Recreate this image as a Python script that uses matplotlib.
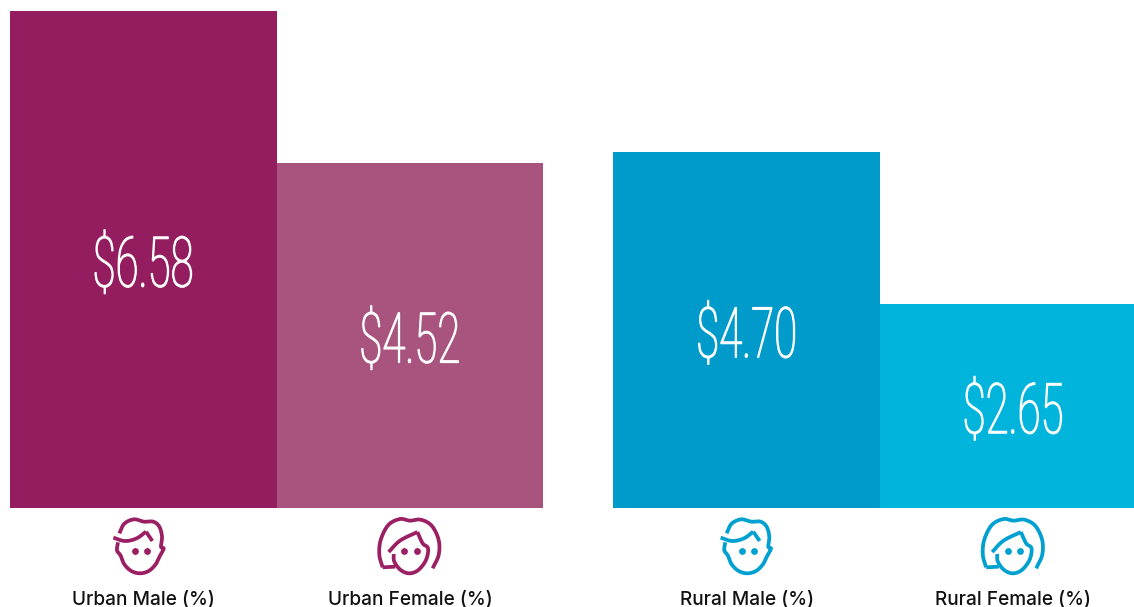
import numpy as np
import matplotlib
matplotlib.use("Agg")
import matplotlib.pyplot as plt
from matplotlib.text import Text
from matplotlib.textpath import TextPath
from matplotlib.transforms import Affine2D, Bbox
from matplotlib.font_manager import FontProperties

categories = ["Urban Male (%)", "Urban Female (%)", "Rural Male (%)", "Rural Female (%)"]
value_labels = ["$6.58", "$4.52", "$4.70", "$2.65"]
bar_heights = [6.58, 4.57, 4.71, 2.70]
positions = [0.0, 1.0, 2.262, 3.262]
bar_colors = ["#931D5E", "#A8547E", "#009BCB", "#00B4DC"]
icon_colors = ["#9B1F63", "#9B1F63", "#00A0D0", "#00A0D0"]

W, H = 1134, 607
fig = plt.figure(figsize=(W / 100, H / 100), dpi=100)
fig.patch.set_facecolor("white")
PX_PER_CAT = 266.7
ax = fig.add_axes([10 / W, (H - 508) / H, (W - 10) / W, 497 / H])
ax.set_xlim(-0.5, -0.5 + (W - 10) / PX_PER_CAT)
ax.set_ylim(0, 6.58)
ax.bar(positions, bar_heights, width=1.0, color=bar_colors, linewidth=0)
ax.set_xticks(positions, categories, fontfamily="Inter", fontweight="medium", fontsize=13.7, color="#111111")
ax.tick_params(axis="x", length=0, pad=59.5)
ax.set_yticks([])
for s in ax.spines.values():
    s.set_visible(False)


class CondensedText(Text):
    """Text whose glyphs are squeezed horizontally, as in the condensed display face."""
    stretch = 0.6
    em_px = 70.0
    stroke_pt = 0.85

    def _path_and_affine(self):
        tp = TextPath((0, 0), self.get_text(), size=1, prop=self.get_fontproperties())
        bb = tp.get_extents()
        cx, cy = self.get_transform().transform(self.get_position())
        sx, sy = self.em_px * self.stretch, self.em_px
        aff = (Affine2D().translate(-(bb.x0 + bb.x1) / 2, -(bb.y0 + bb.y1) / 2)
               .scale(sx, sy).translate(cx, cy))
        return tp, aff

    def draw(self, renderer):
        tp, aff = self._path_and_affine()
        gc = renderer.new_gc()
        gc.set_linewidth(self.stroke_pt)
        gc.set_foreground("white")
        renderer.draw_path(gc, tp, aff, rgbFace=(1, 1, 1, 1))
        gc.restore()

    def get_window_extent(self, renderer=None, dpi=None):
        tp, aff = self._path_and_affine()
        return Bbox(tp.transformed(aff).get_extents().get_points())


fp = FontProperties(family="Roboto", weight="light")
for x, h, lab in zip(positions, bar_heights, value_labels):
    t = CondensedText(x, h / 2 - 0.03, lab, fontproperties=fp, color="white", fontsize=20)
    t.set_transform(ax.transData)
    t.set_clip_on(False)
    ax.add_artist(t)

# Overlay in pixel coordinates for the pictograms
ov = fig.add_axes([0, 0, 1, 1])
ov.set_xlim(0, W)
ov.set_ylim(H, 0)
ov.axis("off")
ov.patch.set_alpha(0)


def smooth(pts, n=14):
    p = np.array(pts, float)
    p = np.vstack([2 * p[0] - p[1], p, 2 * p[-1] - p[-2]])
    out = []
    t = np.linspace(0, 1, n)[:, None]
    for i in range(1, len(p) - 2):
        a, b, c, d = p[i - 1], p[i], p[i + 1], p[i + 2]
        out.append(0.5 * (2 * b + (c - a) * t + (2 * a - 5 * b + 4 * c - d) * t ** 2
                          + (3 * b - a - 3 * c + d) * t ** 3))
    return np.vstack(out)


male_head = [(178, 85), (193, 56), (222, 43), (252, 50), (280, 50), (298, 65), (306, 95), (303, 125),
             (311, 131), (300, 152), (287, 178), (266, 198), (240, 205), (214, 198), (193, 178),
             (182, 152), (171, 136), (174, 112)]
male_fringe = [(160, 98), (195, 108), (230, 100), (258, 80)]
male_fringe2 = [(258, 80), (277, 108)]
male_eyes = [(224, 137), (261, 137)]
female_hair = [(1118, 190), (1136, 150), (1136, 105), (1115, 62), (1082, 44), (1050, 47), (1020, 42),
               (985, 60), (962, 105), (958, 150), (968, 187)]
female_hair2 = [(968, 187), (1006, 185)]
female_fringe = [(986, 141), (1020, 107), (1072, 81)]
female_face = [(1072, 81), (1088, 115), (1104, 130), (1098, 165), (1075, 195), (1048, 205), (1022, 195),
               (1003, 170), (1001, 147)]
female_eyes = [(1032, 137), (1070, 137)]


def draw_icon(strokes, eyes, ox, oy, color):
    for st in strokes:
        xy = smooth(st) / 3 if len(st) > 2 else np.array(st, float) / 3
        ov.plot(xy[:, 0] + ox, xy[:, 1] + oy, color=color, lw=2.7, solid_capstyle="butt", solid_joinstyle="miter")
    e = np.array(eyes, float) / 3
    ov.scatter(e[:, 0] + ox, e[:, 1] + oy, s=24, color=color, linewidths=0)


male = [male_head, male_fringe, male_fringe2]
female = [female_hair, female_hair2, female_fringe, female_face]
draw_icon(male, male_eyes, 60, 505, icon_colors[0])
draw_icon(female, female_eyes, 60, 505, icon_colors[1])
draw_icon(male, male_eyes, 667.3, 505, icon_colors[2])
draw_icon(female, female_eyes, 663.5, 505, icon_colors[3])

fig.savefig("out.png", dpi=100)
